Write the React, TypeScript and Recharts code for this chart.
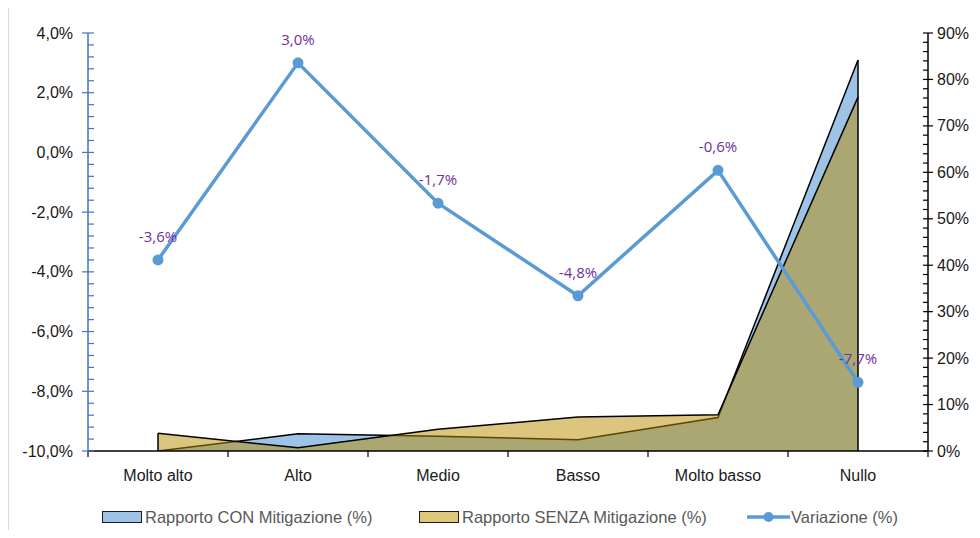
import { ComposedChart, Area, Line, XAxis, YAxis, Legend, LabelList, ReferenceLine } from 'recharts'

const categories = ['Molto alto', 'Alto', 'Medio', 'Basso', 'Molto basso', 'Nullo']
const conMitigazione = [0, 3.7, 3.2, 2.4, 7.2, 84.2]
const senzaMitigazione = [3.8, 0.7, 4.7, 7.3, 7.8, 76.2]
const variazione = [-3.6, 3.0, -1.7, -4.8, -0.6, -7.7]

const leftMajor = [-10, -8, -6, -4, -2, 0, 2, 4]
const rightMajor = [0, 10, 20, 30, 40, 50, 60, 70, 80, 90]
const leftAll = Array.from({ length: 36 }, (_, i) => Math.round((-10 + i * 0.4) * 10) / 10)
const rightAll = Array.from({ length: 46 }, (_, i) => i * 2)

const seriesNames = ['Rapporto CON Mitigazione (%)', 'Rapporto SENZA Mitigazione (%)', 'Variazione (%)']

const data = categories.map((name, i) => ({
  name,
  con: conMitigazione[i],
  senza: senzaMitigazione[i],
  variazione: variazione[i],
}))

const FONT = "'Liberation Sans', Arial, sans-serif"
const BLUE_AXIS = '#4472C4'
const LINE_BLUE = '#5B9BD5'
const HALF_BAND = 70

const fmtLeft = (v: number) => v.toFixed(1).replace('.', ',') + '%'

const LeftTick = (props: any) => {
  const { x, y, payload } = props
  const v = payload.value
  if (leftMajor.some(m => Math.abs(m - v) < 1e-6)) {
    return (
      <g>
        <line x1={x - 6} x2={x + 6} y1={y} y2={y} stroke={BLUE_AXIS} strokeWidth={1.2} />
        <text x={x - 15} y={y} textAnchor='end' dominantBaseline='central' fontFamily={FONT} fontSize={16} fill='#1a1a1a'>
          {fmtLeft(v)}
        </text>
      </g>
    )
  }
  return <line x1={x} x2={x + 6} y1={y} y2={y} stroke={BLUE_AXIS} strokeWidth={1.2} />
}

const RightTick = (props: any) => {
  const { x, y, payload } = props
  const v = payload.value
  if (rightMajor.includes(v)) {
    return (
      <g>
        <line x1={x - 5} x2={x + 5} y1={y} y2={y} stroke='#000' strokeWidth={1.2} />
        <text x={x + 9} y={y} textAnchor='start' dominantBaseline='central' fontFamily={FONT} fontSize={16} fill='#1a1a1a'>
          {v + '%'}
        </text>
      </g>
    )
  }
  return <line x1={x - 5} x2={x} y1={y} y2={y} stroke='#000' strokeWidth={1.2} />
}

const BottomTick = (props: any) => {
  const { x, y, payload, index } = props
  return (
    <g>
      {index === 0 && <line x1={x - HALF_BAND} x2={x - HALF_BAND} y1={y} y2={y + 6} stroke='#000' strokeWidth={1.2} />}
      <line x1={x + HALF_BAND} x2={x + HALF_BAND} y1={y} y2={y + 6} stroke='#000' strokeWidth={1.2} />
      <text x={x} y={y + 24} textAnchor='middle' dominantBaseline='central' fontFamily={FONT} fontSize={16} fill='#1a1a1a'>
        {payload.value}
      </text>
    </g>
  )
}

const PointLabel = (props: any) => {
  const { x, y, value } = props
  return (
    <text x={x} y={y - 24} textAnchor='middle' dominantBaseline='central' fontFamily="'Open Sans', sans-serif" fontSize={15} fill='#7030A0'>
      {fmtLeft(value)}
    </text>
  )
}

const Swatch = ({ color }: { color: string }) => (
  <span
    style={{
      display: 'inline-block',
      width: 38,
      height: 10,
      background: color,
      border: '1.5px solid #1a1a1a',
      marginRight: 3,
    }}
  />
)

const LegendContent = () => {
  const text = { fontFamily: FONT, fontSize: 16.5, color: '#595959', whiteSpace: 'nowrap' as const }
  const item = (left: number) => ({
    position: 'absolute' as const,
    left,
    top: 0,
    height: 16,
    display: 'flex',
    alignItems: 'center',
  })
  return (
    <div style={{ position: 'relative', height: 16 }}>
      <div style={item(84)}>
        <Swatch color='#9DC3E6' />
        <span style={text}>{seriesNames[0]}</span>
      </div>
      <div style={item(401)}>
        <Swatch color='#DEC87A' />
        <span style={text}>{seriesNames[1]}</span>
      </div>
      <div style={item(729)}>
        <svg width={43} height={12} style={{ marginRight: 1 }}>
          <line x1={0} x2={43} y1={6} y2={6} stroke={LINE_BLUE} strokeWidth={3.5} />
          <circle cx={21.5} cy={6} r={5} fill={LINE_BLUE} />
        </svg>
        <span style={text}>{seriesNames[2]}</span>
      </div>
    </div>
  )
}

export default function App() {
  return (
    <div style={{ width: 963, height: 522, borderLeft: '1px solid #D9D9D9' }}>
      <ComposedChart width={963} height={522} data={data} margin={{ top: 25, right: 0, bottom: 5, left: 9 }}>
        <XAxis
          dataKey='name'
          xAxisId={0}
          padding={{ left: HALF_BAND, right: HALF_BAND }}
          axisLine={{ stroke: '#000', strokeWidth: 1.5 }}
          tickLine={false}
          tickSize={0}
          tickMargin={0}
          height={58}
          interval={0}
          tick={<BottomTick />}
        />
        <YAxis
          yAxisId='left'
          orientation='left'
          domain={[-10, 4]}
          ticks={leftAll}
          interval={0}
          width={70}
          allowDataOverflow
          axisLine={{ stroke: BLUE_AXIS, strokeWidth: 1.5 }}
          tickLine={false}
          tickSize={0}
          tickMargin={0}
          tick={<LeftTick />}
        />
        <YAxis
          yAxisId='right'
          orientation='right'
          domain={[0, 90]}
          ticks={rightAll}
          interval={0}
          width={44}
          allowDataOverflow
          axisLine={{ stroke: '#000', strokeWidth: 1.5 }}
          tickLine={false}
          tickSize={0}
          tickMargin={0}
          tick={<RightTick />}
        />
        <Area
          yAxisId='right'
          type='linear'
          dataKey='con'
          name={seriesNames[0]}
          fill='#9DC3E6'
          fillOpacity={1}
          stroke='#000'
          strokeWidth={1.5}
          dot={false}
          activeDot={false}
          isAnimationActive={false}
        />
        <Area
          yAxisId='right'
          type='linear'
          dataKey='senza'
          name={seriesNames[1]}
          fill='#BA8C00'
          fillOpacity={0.5}
          stroke='#000'
          strokeWidth={1.5}
          dot={false}
          activeDot={false}
          isAnimationActive={false}
        />
        <ReferenceLine
          yAxisId='right'
          segment={[
            { x: categories[0], y: 0 },
            { x: categories[0], y: Math.max(conMitigazione[0], senzaMitigazione[0]) },
          ]}
          stroke='#000'
          strokeWidth={1.5}
        />
        <ReferenceLine
          yAxisId='right'
          segment={[
            { x: categories[5], y: 0 },
            { x: categories[5], y: Math.max(conMitigazione[5], senzaMitigazione[5]) },
          ]}
          stroke='#000'
          strokeWidth={1.5}
        />
        <Line
          yAxisId='left'
          type='linear'
          dataKey='variazione'
          name={seriesNames[2]}
          stroke={LINE_BLUE}
          strokeWidth={3.5}
          dot={{ r: 5.5, fill: LINE_BLUE, stroke: 'none' }}
          activeDot={false}
          isAnimationActive={false}>
          <LabelList dataKey='variazione' content={<PointLabel />} />
        </Line>
        <Legend verticalAlign='bottom' height={16} content={<LegendContent />} />
      </ComposedChart>
    </div>
  )
}
